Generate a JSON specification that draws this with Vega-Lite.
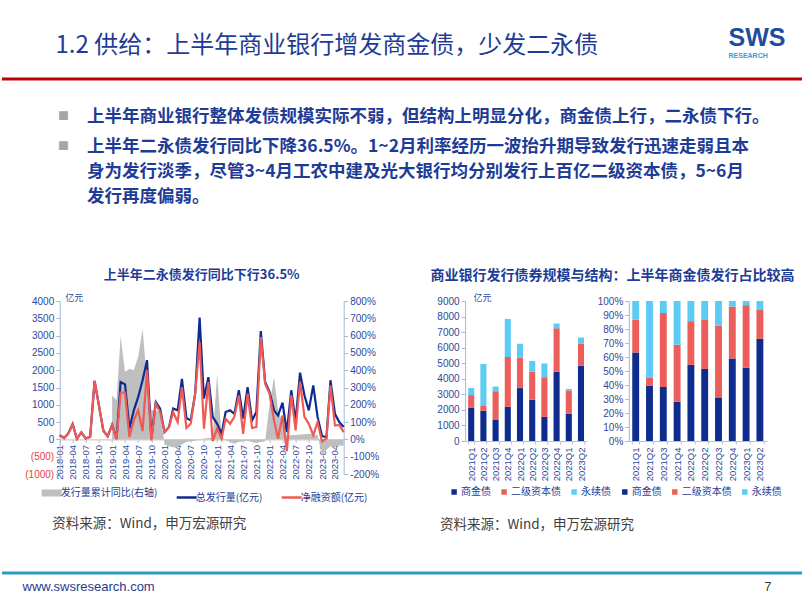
{
  "$schema": "https://vega.github.io/schema/vega-lite/v6.json",
  "background": "#ffffff",
  "padding": {"left": 0, "top": 25, "right": 0, "bottom": 6},
  "spacing": 27,
  "config": {
    "font": "Liberation Sans",
    "view": {"stroke": null},
    "axis": {"grid": false, "labelFont": "Liberation Sans", "labelFontSize": 10, "labelColor": "#2B4A9A", "domainColor": "#A6B8D8", "tickColor": "#A6B8D8", "titleFont": "Noto Sans CJK SC", "labelOverlap": false},
    "legend": {"labelFont": "Noto Sans CJK SC", "labelFontSize": 10, "labelColor": "#1E3C96"},
    "title": {"font": "Noto Sans CJK SC"}
  },
  "datasets": {
    "monthly": [
      {"m": "2018-01-01", "total": 125, "net": 125, "yoy": null},
      {"m": "2018-02-01", "total": 40, "net": 40, "yoy": null},
      {"m": "2018-03-01", "total": 165, "net": 165, "yoy": null},
      {"m": "2018-04-01", "total": 440, "net": 440, "yoy": null},
      {"m": "2018-05-01", "total": 20, "net": 20, "yoy": null},
      {"m": "2018-06-01", "total": 200, "net": 200, "yoy": null},
      {"m": "2018-07-01", "total": 30, "net": 30, "yoy": null},
      {"m": "2018-08-01", "total": 70, "net": 70, "yoy": null},
      {"m": "2018-09-01", "total": 1690, "net": 1690, "yoy": null},
      {"m": "2018-10-01", "total": 980, "net": 980, "yoy": null},
      {"m": "2018-11-01", "total": 250, "net": 250, "yoy": null},
      {"m": "2018-12-01", "total": 90, "net": 90, "yoy": null},
      {"m": "2019-01-01", "total": 420, "net": 420, "yoy": 254},
      {"m": "2019-02-01", "total": 30, "net": 0, "yoy": 226},
      {"m": "2019-03-01", "total": 1660, "net": 1350, "yoy": 596},
      {"m": "2019-04-01", "total": 1590, "net": 1350, "yoy": 389},
      {"m": "2019-05-01", "total": 310, "net": 70, "yoy": 409},
      {"m": "2019-06-01", "total": 840, "net": 550, "yoy": 399},
      {"m": "2019-07-01", "total": 1220, "net": 840, "yoy": 476},
      {"m": "2019-08-01", "total": 1710, "net": 240, "yoy": 640},
      {"m": "2019-09-01", "total": 2290, "net": 2000, "yoy": 330},
      {"m": "2019-10-01", "total": 30, "net": -30, "yoy": 170},
      {"m": "2019-11-01", "total": 1080, "net": 1030, "yoy": 165},
      {"m": "2019-12-01", "total": 890, "net": 790, "yoy": 160},
      {"m": "2020-01-01", "total": 210, "net": 210, "yoy": -30},
      {"m": "2020-02-01", "total": 360, "net": 360, "yoy": -40},
      {"m": "2020-03-01", "total": 890, "net": 790, "yoy": -45},
      {"m": "2020-04-01", "total": 840, "net": 500, "yoy": -45},
      {"m": "2020-05-01", "total": 1750, "net": 1510, "yoy": -30},
      {"m": "2020-06-01", "total": 620, "net": 330, "yoy": -15},
      {"m": "2020-07-01", "total": 550, "net": 450, "yoy": -10},
      {"m": "2020-08-01", "total": 1320, "net": 1320, "yoy": -8},
      {"m": "2020-09-01", "total": 3520, "net": 2810, "yoy": 0},
      {"m": "2020-10-01", "total": 1180, "net": 310, "yoy": 5},
      {"m": "2020-11-01", "total": 1800, "net": 1660, "yoy": 8},
      {"m": "2020-12-01", "total": 650, "net": -50, "yoy": 10},
      {"m": "2021-01-01", "total": 450, "net": 310, "yoy": 380},
      {"m": "2021-02-01", "total": 160, "net": 20, "yoy": 15},
      {"m": "2021-03-01", "total": 790, "net": 600, "yoy": -5},
      {"m": "2021-04-01", "total": 840, "net": 450, "yoy": -15},
      {"m": "2021-05-01", "total": 740, "net": 650, "yoy": -25},
      {"m": "2021-06-01", "total": 1420, "net": 1270, "yoy": -15},
      {"m": "2021-07-01", "total": 600, "net": 160, "yoy": -10},
      {"m": "2021-08-01", "total": 1510, "net": 1320, "yoy": -8},
      {"m": "2021-09-01", "total": 550, "net": 330, "yoy": -15},
      {"m": "2021-10-01", "total": 790, "net": 360, "yoy": -20},
      {"m": "2021-11-01", "total": 3130, "net": 2960, "yoy": -15},
      {"m": "2021-12-01", "total": 1660, "net": 1610, "yoy": -10},
      {"m": "2022-01-01", "total": 1370, "net": 1320, "yoy": 200},
      {"m": "2022-02-01", "total": 840, "net": 550, "yoy": 360},
      {"m": "2022-03-01", "total": 690, "net": 20, "yoy": 170},
      {"m": "2022-04-01", "total": 1060, "net": 690, "yoy": 100},
      {"m": "2022-05-01", "total": 210, "net": -340, "yoy": 20},
      {"m": "2022-06-01", "total": 1420, "net": 1270, "yoy": 25},
      {"m": "2022-07-01", "total": 520, "net": 260, "yoy": 25},
      {"m": "2022-08-01", "total": 1930, "net": 1660, "yoy": 28},
      {"m": "2022-09-01", "total": 1270, "net": 650, "yoy": 30},
      {"m": "2022-10-01", "total": 840, "net": 450, "yoy": 32},
      {"m": "2022-11-01", "total": 1560, "net": 120, "yoy": 30},
      {"m": "2022-12-01", "total": 650, "net": 500, "yoy": 25},
      {"m": "2023-01-01", "total": 100, "net": -60, "yoy": -95},
      {"m": "2023-02-01", "total": 60, "net": 20, "yoy": -60},
      {"m": "2023-03-01", "total": 1710, "net": 1560, "yoy": -40},
      {"m": "2023-04-01", "total": 740, "net": 400, "yoy": -45},
      {"m": "2023-05-01", "total": 500, "net": 420, "yoy": -35},
      {"m": "2023-06-01", "total": 360, "net": 210, "yoy": -36.5}
    ],
    "bars": [
      {"q": "2021Q1", "t": "商金债", "v": 2150}, {"q": "2021Q1", "t": "二级资本债", "v": 800}, {"q": "2021Q1", "t": "永续债", "v": 450},
      {"q": "2021Q2", "t": "商金债", "v": 1950}, {"q": "2021Q2", "t": "二级资本债", "v": 300}, {"q": "2021Q2", "t": "永续债", "v": 2700},
      {"q": "2021Q3", "t": "商金债", "v": 1350}, {"q": "2021Q3", "t": "二级资本债", "v": 1850}, {"q": "2021Q3", "t": "永续债", "v": 300},
      {"q": "2021Q4", "t": "商金债", "v": 2200}, {"q": "2021Q4", "t": "二级资本债", "v": 3200}, {"q": "2021Q4", "t": "永续债", "v": 2450},
      {"q": "2022Q1", "t": "商金债", "v": 3400}, {"q": "2022Q1", "t": "二级资本债", "v": 1950}, {"q": "2022Q1", "t": "永续债", "v": 900},
      {"q": "2022Q2", "t": "商金债", "v": 2650}, {"q": "2022Q2", "t": "二级资本债", "v": 1800}, {"q": "2022Q2", "t": "永续债", "v": 700},
      {"q": "2022Q3", "t": "商金债", "v": 1550}, {"q": "2022Q3", "t": "二级资本债", "v": 2550}, {"q": "2022Q3", "t": "永续债", "v": 880},
      {"q": "2022Q4", "t": "商金债", "v": 4450}, {"q": "2022Q4", "t": "二级资本债", "v": 2800}, {"q": "2022Q4", "t": "永续债", "v": 300},
      {"q": "2023Q1", "t": "商金债", "v": 1750}, {"q": "2023Q1", "t": "二级资本债", "v": 1500}, {"q": "2023Q1", "t": "永续债", "v": 100},
      {"q": "2023Q2", "t": "商金债", "v": 4850}, {"q": "2023Q2", "t": "二级资本债", "v": 1400}, {"q": "2023Q2", "t": "永续债", "v": 400}
    ]
  },
  "vconcat": [
    {
      "hconcat": [
        {
          "width": 680, "height": 2,
          "data": {"values": [{}]},
          "mark": {"type": "rule", "color": "#C00000", "strokeWidth": 3},
          "encoding": {"y": {"datum": 0.5, "type": "quantitative", "scale": {"domain": [0, 1]}, "axis": null}},
          "title": {"text": "1.2 供给：上半年商业银行增发商金债，少发二永债", "anchor": "start", "dx": 55, "offset": 20, "fontSize": 24, "fontWeight": "normal", "color": "#1E3C96", "font": "Noto Sans CJK SC"}
        },
        {
          "width": 122, "height": 2,
          "data": {"values": [{}]},
          "mark": {"type": "rule", "color": "#C00000", "strokeWidth": 3},
          "encoding": {"y": {"datum": 0.5, "type": "quantitative", "scale": {"domain": [0, 1]}, "axis": null}},
          "title": {"text": "SWS", "subtitle": "RESEARCH", "anchor": "start", "dx": 48, "offset": 19, "fontSize": 25, "fontWeight": "bold", "color": "#1D4E9E", "font": "Liberation Sans", "subtitleFont": "Liberation Sans", "subtitleFontSize": 7, "subtitleFontWeight": "bold", "subtitleColor": "#3A9BD0", "subtitlePadding": 1}
        }
      ],
      "spacing": 0,
      "bounds": "flush"
    },
    {
      "hconcat": [
        {
          "width": 48, "height": 30,
          "data": {"values": []},
          "mark": "text",
          "encoding": {},
          "title": {"text": "■", "subtitle": "■", "anchor": "start", "dx": 56, "offset": 59, "fontSize": 11, "color": "#A6A6A6", "subtitleFontSize": 11, "subtitleColor": "#A6A6A6", "subtitlePadding": 19, "font": "Noto Sans CJK SC", "subtitleFont": "Noto Sans CJK SC"}
        },
        {
          "width": 740, "height": 30,
          "data": {"values": []},
          "mark": "text",
          "encoding": {},
          "title": {
            "text": "上半年商业银行整体发债规模实际不弱，但结构上明显分化，商金债上行，二永债下行。",
            "subtitle": ["上半年二永债发行同比下降36.5%。1~2月利率经历一波抬升期导致发行迅速走弱且本", "身为发行淡季，尽管3~4月工农中建及光大银行均分别发行上百亿二级资本债，5~6月", "发行再度偏弱。"],
            "anchor": "start", "dx": 37, "offset": 6,
            "fontSize": 17.5, "fontWeight": "bold", "color": "#1E3C96", "font": "Noto Sans CJK SC",
            "subtitleFont": "Noto Sans CJK SC", "subtitleFontSize": 17.5, "subtitleFontWeight": "bold", "subtitleColor": "#1E3C96", "subtitleLineHeight": 25, "subtitlePadding": 12
          }
        }
      ],
      "spacing": 0,
      "bounds": "flush"
    },
    {
      "hconcat": [
        {
          "width": 15.3, "height": 1,
          "data": {"values": []},
          "mark": "text",
          "encoding": {}
        },
        {
          "width": 284, "height": 173,
          "data": {"name": "monthly"},
          "title": {"text": "上半年二永债发行同比下行36.5%", "anchor": "middle", "offset": 11, "fontSize": 13, "fontWeight": "bold", "color": "#1E3C96", "font": "Noto Sans CJK SC"},
          "encoding": {
            "x": {
              "field": "m", "type": "temporal",
              "scale": {"type": "utc", "nice": false},
              "axis": {
                "offset": -34.6, "tickCount": {"interval": "month", "step": 3}, "format": "%Y-%m",
                "labelAngle": 270, "labelFontSize": 9.5, "labelColor": "#2B4A9A", "labelPadding": 2, "labelOverlap": false, "labelFlush": false,
                "domainColor": "#BFBFBF", "tickColor": "#BFBFBF", "tickSize": 3,
                "title": "资料来源：Wind，申万宏源研究", "titleX": -8, "titleY": 84, "titleAlign": "left", "titleBaseline": "middle", "titleAngle": 0,
                "titleFontSize": 13.5, "titleFontWeight": "normal", "titleColor": "#404040", "titleFont": "Noto Sans CJK SC"
              }
            }
          },
          "layer": [
            {
              "mark": {"type": "area", "color": "#BFBFBF"},
              "encoding": {
                "y": {
                  "field": "yoy", "type": "quantitative",
                  "scale": {"domain": [-200, 800], "nice": false, "zero": false},
                  "axis": {"orient": "right", "values": [-200, -100, 0, 100, 200, 300, 400, 500, 600, 700, 800], "labelExpr": "datum.value + '%'", "title": null, "tickSize": 4, "labelPadding": 2}
                },
                "color": {
                  "datum": "发行量累计同比(右轴)",
                  "scale": {"domain": ["发行量累计同比(右轴)", "总发行量(亿元)", "净融资额(亿元)"], "range": ["#BFBFBF", "#0E2C8E", "#F05A55"]},
                  "legend": {
                    "orient": "none", "legendX": -13, "legendY": 187, "direction": "horizontal", "title": null,
                    "symbolType": "stroke", "symbolSize": 400, "symbolStrokeWidth": 2.5, "labelOffset": 4, "columnPadding": 14,
                    "labelFontSize": 10, "labelColor": "#1E3C96",
                    "encode": {"symbols": {"update": {
                      "stroke": {"signal": "datum.value === '发行量累计同比(右轴)' ? '#BFBFBF' : datum.value === '总发行量(亿元)' ? '#0E2C8E' : '#F05A55'"},
                      "strokeWidth": {"signal": "datum.value === '发行量累计同比(右轴)' ? 7 : 2.5"}
                    }}}
                  }
                }
              }
            },
            {
              "encoding": {
                "y": {
                  "field": "total", "type": "quantitative",
                  "scale": {"domain": [-1000, 4000], "nice": false, "zero": false},
                  "axis": {
                    "orient": "left", "values": [-1000, -500, 0, 500, 1000, 1500, 2000, 2500, 3000, 3500, 4000],
                    "labelExpr": "datum.value < 0 ? '(' + (-datum.value) + ')' : '' + datum.value",
                    "labelColor": {"expr": "datum.value < 0 ? '#E8413D' : '#2B4A9A'"},
                    "labelOverlap": false, "labelSeparation": 0, "tickSize": 4, "labelPadding": 2,
                    "title": "亿元", "titleAngle": 0, "titleX": 5, "titleY": -4, "titleAlign": "left", "titleBaseline": "middle",
                    "titleFontSize": 9, "titleFontWeight": "normal", "titleColor": "#2B4A9A"
                  }
                }
              },
              "layer": [
                {
                  "mark": {"type": "line", "strokeWidth": 2.2},
                  "encoding": {"color": {"datum": "总发行量(亿元)"}}
                },
                {
                  "mark": {"type": "line", "strokeWidth": 2.2},
                  "encoding": {
                    "y": {"field": "net", "type": "quantitative", "scale": {"domain": [-1000, 4000], "nice": false, "zero": false}},
                    "color": {"datum": "净融资额(亿元)"}
                  }
                }
              ]
            }
          ],
          "resolve": {"scale": {"y": "independent"}}
        },
        {
          "width": 37.3, "height": 1,
          "data": {"values": []},
          "mark": "text",
          "encoding": {}
        },
        {
          "width": 122, "height": 140,
          "data": {"name": "bars"},
          "transform": [{"calculate": "indexof(['商金债', '二级资本债', '永续债'], datum.t)", "as": "ord"}],
          "title": {"text": "商业银行发行债券规模与结构：上半年商金债发行占比较高", "anchor": "start", "frame": "group", "dx": -34.7, "offset": 10.5, "fontSize": 14, "fontWeight": "bold", "color": "#1E3C96", "font": "Noto Sans CJK SC"},
          "mark": {"type": "bar"},
          "encoding": {
            "x": {
              "field": "q", "type": "ordinal",
              "scale": {"paddingInner": 0.5, "paddingOuter": 0.25},
              "axis": {
                "labelAngle": 270, "labelFontSize": 9.5, "labelColor": "#2B4A9A", "labelPadding": 3,
                "domainColor": "#BFBFBF", "tickColor": "#BFBFBF", "tickSize": 3, "tickBand": "extent",
                "title": "资料来源：Wind，申万宏源研究", "titleX": -25.7, "titleY": 83, "titleAlign": "left", "titleBaseline": "middle", "titleAngle": 0,
                "titleFontSize": 13.5, "titleFontWeight": "normal", "titleColor": "#404040", "titleFont": "Noto Sans CJK SC"
              }
            },
            "y": {
              "field": "v", "type": "quantitative", "stack": "zero",
              "scale": {"domain": [0, 9000], "nice": false},
              "axis": {
                "values": [0, 1000, 2000, 3000, 4000, 5000, 6000, 7000, 8000, 9000], "format": "d", "tickSize": 4, "labelPadding": 2,
                "title": "亿元", "titleAngle": 0, "titleX": 8, "titleY": -4, "titleAlign": "left", "titleBaseline": "middle",
                "titleFontSize": 9, "titleFontWeight": "normal", "titleColor": "#2B4A9A"
              }
            },
            "order": {"field": "ord", "type": "quantitative", "sort": "ascending"},
            "color": {
              "field": "t", "type": "nominal", "sort": ["商金债", "二级资本债", "永续债"],
              "scale": {"domain": ["商金债", "二级资本债", "永续债"], "range": ["#0E2C8E", "#EC5E59", "#5CCCF5"]},
              "legend": {"orient": "none", "legendX": -16, "legendY": 186, "direction": "horizontal", "title": null, "symbolType": "square", "symbolSize": 30, "labelOffset": 2, "columnPadding": 8, "labelFontSize": 10}
            }
          }
        },
        {
          "width": 138, "height": 140,
          "data": {"name": "bars"},
          "transform": [{"calculate": "indexof(['商金债', '二级资本债', '永续债'], datum.t)", "as": "ord"}],
          "mark": {"type": "bar"},
          "encoding": {
            "x": {
              "field": "q", "type": "ordinal",
              "scale": {"paddingInner": 0.5, "paddingOuter": 0.25},
              "axis": {"labelAngle": 270, "labelFontSize": 9.5, "labelColor": "#2B4A9A", "labelPadding": 3, "domainColor": "#BFBFBF", "tickColor": "#BFBFBF", "tickSize": 3, "tickBand": "extent", "title": null}
            },
            "y": {
              "field": "v", "type": "quantitative", "stack": "normalize",
              "scale": {"domain": [0, 1], "nice": false},
              "axis": {"values": [0, 0.1, 0.2, 0.3, 0.4, 0.5, 0.6, 0.7, 0.8, 0.9, 1], "format": ".0%", "tickSize": 4, "labelPadding": 2, "title": null}
            },
            "order": {"field": "ord", "type": "quantitative", "sort": "ascending"},
            "color": {
              "field": "t", "type": "nominal", "sort": ["商金债", "二级资本债", "永续债"],
              "scale": {"domain": ["商金债", "二级资本债", "永续债"], "range": ["#0E2C8E", "#EC5E59", "#5CCCF5"]},
              "legend": {"orient": "none", "legendX": -9, "legendY": 186, "direction": "horizontal", "title": null, "symbolType": "square", "symbolSize": 30, "labelOffset": 2, "columnPadding": 8, "labelFontSize": 10}
            }
          }
        }
      ],
      "spacing": 41.7,
      "bounds": "flush",
      "resolve": {"scale": {"color": "independent"}, "legend": {"color": "independent"}}
    },
    {
      "hconcat": [
        {
          "width": 700, "height": 15,
          "data": {"values": [{}]},
          "mark": {"type": "rule", "color": "#2F9AC1", "strokeWidth": 3},
          "encoding": {"y": {"datum": 0, "type": "quantitative", "scale": {"domain": [0, 1]}, "axis": null}},
          "title": {"text": "www.swsresearch.com", "orient": "bottom", "anchor": "start", "dx": 22, "offset": 6, "fontSize": 13, "fontWeight": "normal", "color": "#1F3C8E", "font": "Liberation Sans"}
        },
        {
          "width": 102, "height": 15,
          "data": {"values": [{}]},
          "mark": {"type": "rule", "color": "#2F9AC1", "strokeWidth": 3},
          "encoding": {"y": {"datum": 0, "type": "quantitative", "scale": {"domain": [0, 1]}, "axis": null}},
          "title": {"text": "7", "orient": "bottom", "anchor": "end", "dx": -34, "offset": 6, "fontSize": 13, "fontWeight": "normal", "color": "#404040", "font": "Liberation Sans"}
        }
      ],
      "spacing": 0,
      "bounds": "flush"
    }
  ]
}
